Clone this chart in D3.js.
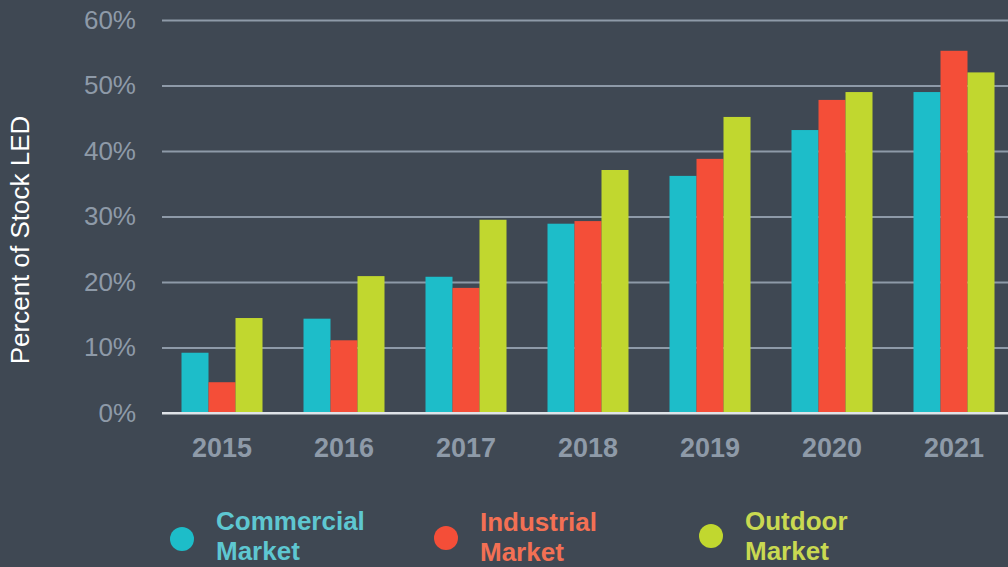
<!DOCTYPE html>
<html>
<head>
<meta charset="utf-8">
<script src="https://cdn.jsdelivr.net/npm/d3@7"></script>
<style>
  html, body { margin: 0; padding: 0; background: #3f4853; }
  svg { display: block; font-family: "Liberation Sans", Arial, Helvetica, sans-serif; }
</style>
</head>
<body>
<div id="main"></div>
<script>
// **** Data ****
var years = ["2015", "2016", "2017", "2018", "2019", "2020", "2021"];
var seriesNames = ["Commercial", "Industrial", "Outdoor"];
var commercial = [9.2, 14.4, 20.8, 28.9, 36.2, 43.2, 49.0];
var industrial = [4.7, 11.1, 19.1, 29.3, 38.8, 47.8, 55.3];
var outdoor = [14.5, 20.9, 29.5, 37.1, 45.2, 49.0, 52.0];
var yTicks = [0, 10, 20, 30, 40, 50, 60];

var barColors = ["#1dbdc9", "#f44e38", "#c1d72f"];
var textColors = ["#5ec7d1", "#f37054", "#c9d951"];

var width = 1008, height = 567;

var svg = d3.select("#main")
  .append("svg")
    .attr("width", width)
    .attr("height", height);

svg.append("rect")
    .attr("width", width)
    .attr("height", height)
    .attr("fill", "#3f4853");

// **** Scales ****
var x = d3.scaleBand()
    .domain(years)
    .range([161, 1015])
    .paddingInner(0.336)
    .paddingOuter(0.168);

var xInner = d3.scaleBand()
    .domain(seriesNames)
    .range([0, x.bandwidth()]);

var y = d3.scaleLinear()
    .domain([0, 60])
    .range([413, 20]);

// **** Grid lines + y labels ****
var yAxis = svg.append("g")
    .attr("transform", "translate(162,0)")
    .call(d3.axisLeft(y).tickValues(yTicks).tickSize(-(width - 162)).tickPadding(26)
      .tickFormat(function(d) { return d + "%"; }));
yAxis.select(".domain").remove();
yAxis.selectAll(".tick line")
    .attr("stroke", function(d) { return d === 0 ? "#dfe3e8" : "#8e9aa8"; })
    .attr("stroke-width", 2);
yAxis.selectAll(".tick text")
    .attr("fill", "#8e9aa8")
    .style("font-size", "26px");

// **** Bars ****
var rows = years.map(function(yr, i) {
  return { year: yr, values: [commercial[i], industrial[i], outdoor[i]] };
});

var groups = svg.append("g")
  .selectAll("g")
  .data(rows)
  .enter()
  .append("g")
    .attr("transform", function(d) { return "translate(" + x(d.year) + ",0)"; });

groups.selectAll("rect")
  .data(function(d) { return d.values.map(function(v, j) { return { name: seriesNames[j], value: v, j: j }; }); })
  .enter()
  .append("rect")
    .attr("x", function(d) { return xInner(d.name); })
    .attr("y", function(d) { return y(d.value); })
    .attr("width", xInner.bandwidth())
    .attr("height", function(d) { return y(0) - y(d.value); })
    .attr("fill", function(d) { return barColors[d.j]; });

// baseline on top of the bars
svg.append("line")
    .attr("x1", 162).attr("x2", width)
    .attr("y1", y(0)).attr("y2", y(0))
    .attr("stroke", "#dfe3e8")
    .attr("stroke-width", 2);

// **** x labels ****
var xAxis = svg.append("g")
    .attr("transform", "translate(0,413)")
    .call(d3.axisBottom(x).tickSize(0).tickPadding(25));
xAxis.select(".domain").remove();
xAxis.selectAll(".tick text")
    .attr("fill", "#8e9aa8")
    .style("font-size", "27px")
    .style("font-weight", "bold");

// **** y title ****
svg.append("text")
    .attr("transform", "translate(29,240) rotate(-90)")
    .attr("text-anchor", "middle")
    .attr("fill", "#ffffff")
    .style("font-size", "26px")
    .text("Percent of Stock LED");

// **** Legend ****
var legendPos = [
  { cx: 182, cy: 539, tx: 216, ty: 530 },
  { cx: 446, cy: 538, tx: 480, ty: 531 },
  { cx: 711, cy: 536, tx: 745, ty: 530 }
];

seriesNames.forEach(function(name, i) {
  var p = legendPos[i];
  svg.append("circle")
      .attr("cx", p.cx)
      .attr("cy", p.cy)
      .attr("r", 12)
      .attr("fill", barColors[i]);
  var t = svg.append("text")
      .attr("x", p.tx)
      .attr("y", p.ty)
      .attr("fill", textColors[i])
      .style("font-size", "26px")
      .style("font-weight", "bold");
  t.append("tspan").attr("x", p.tx).text(name);
  t.append("tspan").attr("x", p.tx).attr("dy", 30).text("Market");
});
</script>
</body>
</html>
